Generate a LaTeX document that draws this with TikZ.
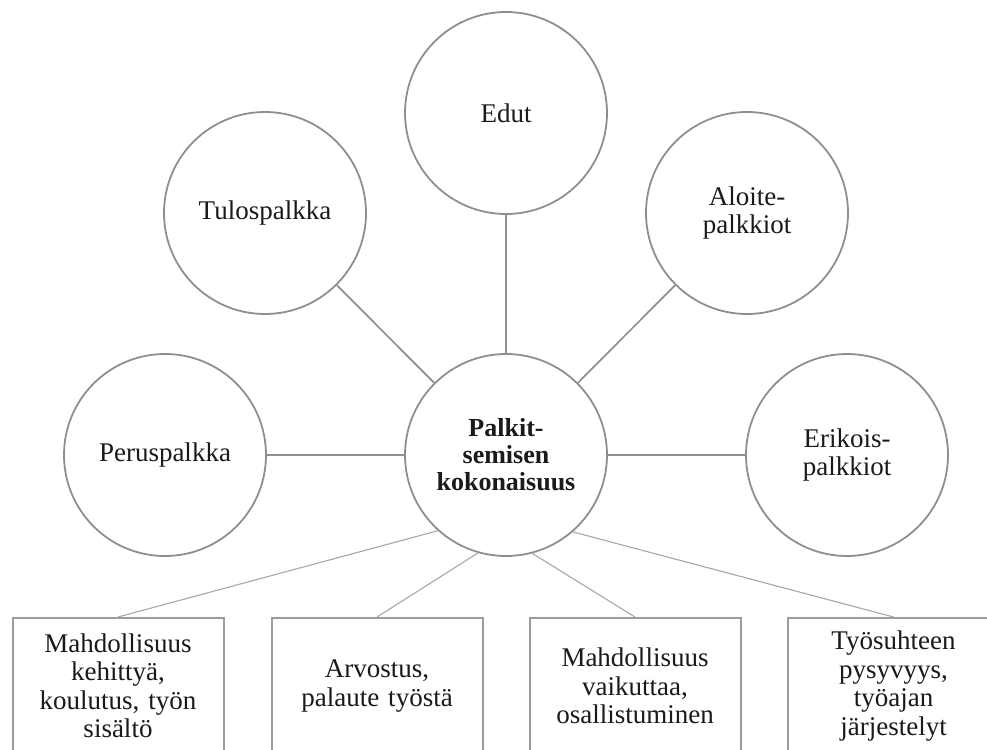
\documentclass[tikz,border=0pt]{standalone}
\usepackage{fontspec}
\setmainfont{Liberation Serif}
\usepackage{xcolor}
\usepackage{tikz}
\usetikzlibrary{positioning, calc}
\definecolor{pk-ring}{HTML}{8F8F8F}
\definecolor{pk-twig}{HTML}{A8A8A8}
\definecolor{pk-box}{HTML}{9C9C9C}
\definecolor{pk-text}{HTML}{1A1A1A}

\begin{document}
\begin{tikzpicture}[x=1pt, y=-1pt,
		ring/.style={
			circle, draw=pk-ring, fill=white,
			line width=1.8pt,
			minimum size=202pt, inner sep=0pt,
			align=center, text=pk-text,
			font=\fontsize{27}{28.5}\selectfont
		},
		core/.style={
			ring,
			font=\fontsize{26}{27}\selectfont\bfseries
		},
		card/.style={
			rectangle, draw=pk-box, fill=white,
			line width=2pt,
			minimum width=211pt, minimum height=136pt,
			text width=205pt, inner sep=0pt,
			align=center, text=pk-text,
			font=\fontsize{27}{28.5}\selectfont
		},
		spoke/.style={draw=pk-ring, line width=1.7pt},
		twig/.style={draw=pk-twig, line width=1.1pt}
		]
		
		\useasboundingbox (0,0) rectangle (987,749);
		\clip (0,0) rectangle (987,749);
		\fill[white] (0,0) rectangle (987,749);
		
		\def\cx{506}
		
		% keskus
		\node[core] (hub) at (\cx,455) {Palkit-\\semisen\\kokonaisuus};
		
		% ympyrät
		\node[ring] (edut)    at (\cx,113)     {Edut};
		\node[ring] (tulos)   at (\cx-241,213) {Tulospalkka};
		\node[ring] (aloite)  at (\cx+241,213) {Aloite-\\palkkiot};
		\node[ring] (perus)   at (\cx-341,455) {Peruspalkka};
		\node[ring] (erikois) at (\cx+341,455) {Erikois-\\palkkiot};
		
		\draw[spoke] (edut) -- (hub);
		\draw[spoke] (tulos) -- (hub);
		\draw[spoke] (aloite) -- (hub);
		\draw[spoke] (perus) -- (hub);
		\draw[spoke] (erikois) -- (hub);
		
		% laatikot
		\node[card] (kehitys) at (118,686)   {Mahdollisuus\\kehittyä,\\koulutus, työn\\sisältö};
		\node[card] (arvostus) at (377,686)  {Arvostus,\\palaute työstä};
		\node[card] (vaikutus) at (635,686)  {Mahdollisuus\\vaikuttaa,\\osallistuminen};
		\node[card] (pysyvyys) at (893.5,686) {Työsuhteen\\pysyvyys,\\työajan\\järjestelyt};
		
		\draw[twig] (hub.228.6) -- (kehitys.north);
		\draw[twig] (hub.254.6) -- (arvostus.north);
		\draw[twig] (hub.285.4) -- (vaikutus.north);
		\draw[twig] (hub.311.4) -- (pysyvyys.north);
		
	\end{tikzpicture}
\end{document}
